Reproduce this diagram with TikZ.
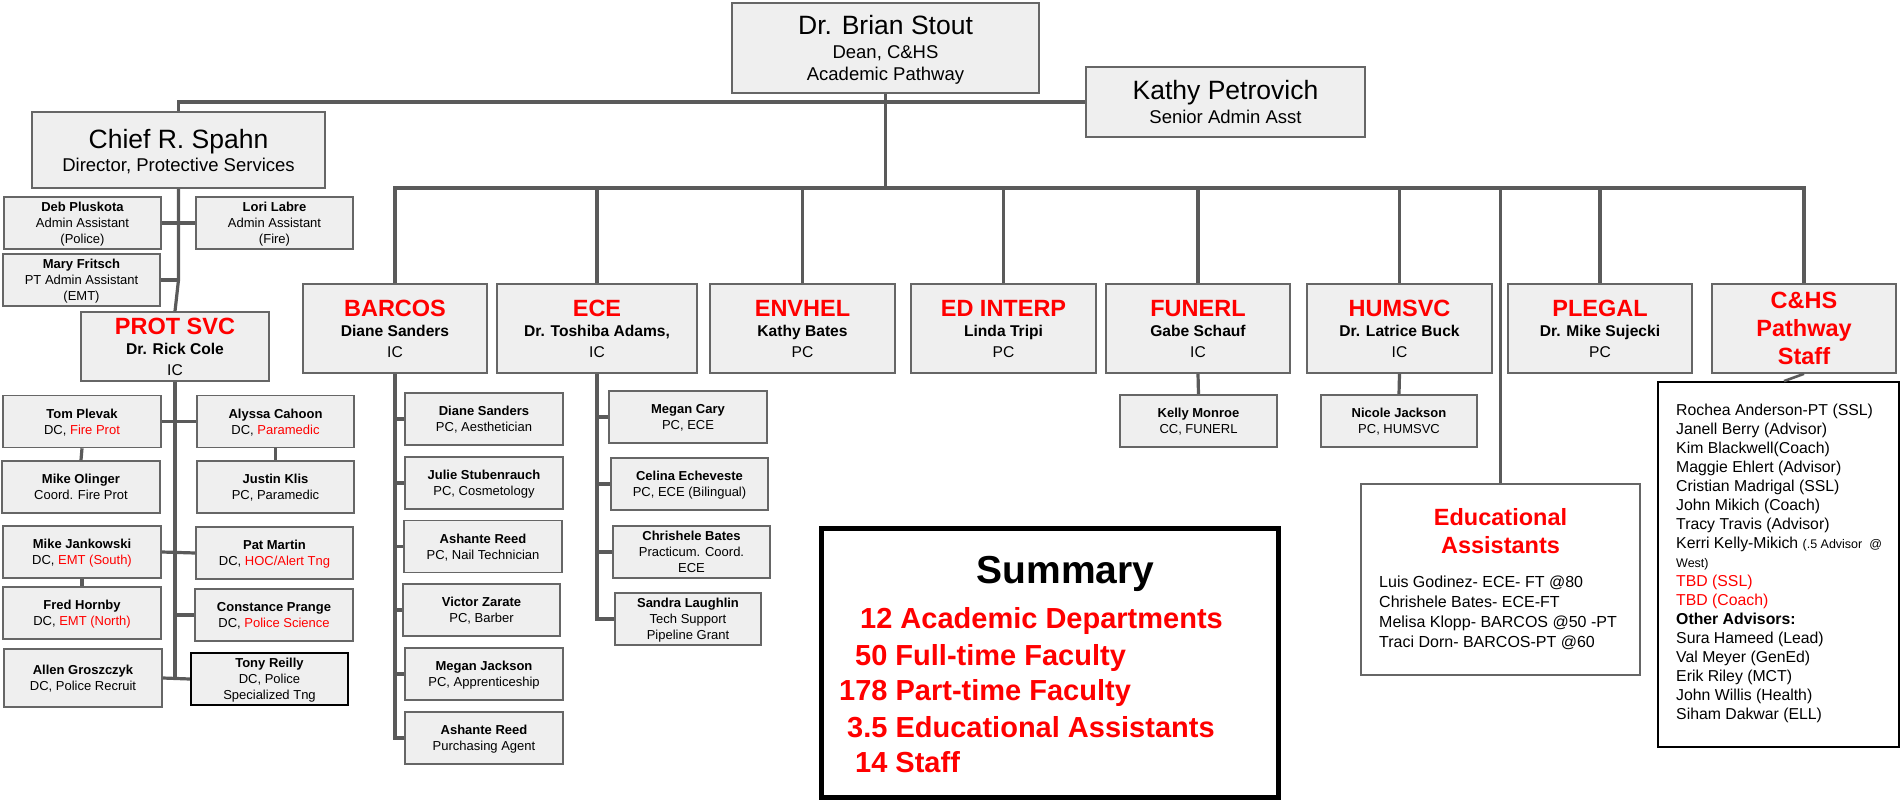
\documentclass[tikz,border=0pt]{standalone}
\usepackage{fontspec}
\setmainfont{Liberation Sans}
\definecolor{boxfill}{HTML}{EFEFEF}
\definecolor{boxline}{HTML}{666666}
\definecolor{linec}{HTML}{5A5A5A}
\definecolor{redt}{HTML}{FF0000}
\newcommand\redtx[1]{\textcolor{redt}{#1}}
\newcommand\dtitle[1]{{\fontsize{23.5}{28}\selectfont\bfseries\color{redt}#1}}
\begin{document}
\begin{tikzpicture}[x=1pt,y=-1pt,
  box/.style={draw=boxline, fill=boxfill, line width=1.6pt, inner sep=0pt, align=center, text depth=0pt},
  dept/.style={box, minimum width=184pt, minimum height=89pt, font=\fontsize{15.6}{20.5}\selectfont},
  sbox/.style={box, minimum width=158pt, minimum height=52pt, font=\fontsize{13}{16}\selectfont},
  conn/.style={draw=linec, line width=3.2pt},
  txt/.style={inner sep=0pt, anchor=base west},
]
\useasboundingbox (0,0) rectangle (1901,800);

% top level
\node[box, minimum width=307pt, minimum height=90pt, font=\fontsize{18.5}{22}\selectfont] (dean) at (885.5,48)
  {{\fontsize{26.5}{30}\selectfont Dr. Brian Stout}\\[2pt]Dean, C\&HS\\Academic Pathway};
\node[box, minimum width=279pt, minimum height=70pt, font=\fontsize{18.5}{24}\selectfont] (kathy) at (1225.5,102)
  {{\fontsize{26.5}{30}\selectfont Kathy Petrovich}\\Senior Admin Asst};
\node[box, minimum width=293pt, minimum height=76pt, font=\fontsize{18.5}{23}\selectfont] (chief) at (178.5,150)
  {{\fontsize{26.5}{30}\selectfont Chief R. Spahn}\\Director, Protective Services};

% protective services
\node[sbox, minimum width=157pt] (deb) at (82.5,223) {\textbf{Deb Pluskota}\\Admin Assistant\\(Police)};
\node[sbox, minimum width=157pt] (lori) at (274.5,223) {\textbf{Lori Labre}\\Admin Assistant\\(Fire)};
\node[sbox, minimum width=157pt] (mary) at (81.5,280) {\textbf{Mary Fritsch}\\PT Admin Assistant\\(EMT)};
\node[dept, minimum width=188pt, minimum height=69pt] (prot) at (175,346.5) {\dtitle{PROT SVC}\\\textbf{Dr. Rick Cole}\\IC};

\node[sbox] (tom) at (82,421.5) {\textbf{Tom Plevak}\\DC, \redtx{Fire Prot}};
\node[sbox, minimum width=157pt] (alyssa) at (275.5,421.5) {\textbf{Alyssa Cahoon}\\DC, \redtx{Paramedic}};
\node[sbox] (olinger) at (81,487) {\textbf{Mike Olinger}\\Coord. Fire Prot};
\node[sbox, minimum width=157pt] (klis) at (275.5,487) {\textbf{Justin Klis}\\PC, Paramedic};
\node[sbox] (jank) at (82,552) {\textbf{Mike Jankowski}\\DC, \redtx{EMT (South)}};
\node[sbox, minimum width=157pt] (pat) at (274.5,553) {\textbf{Pat Martin}\\DC, \redtx{HOC/Alert Tng}};
\node[sbox] (fred) at (82,613) {\textbf{Fred Hornby}\\DC, \redtx{EMT (North)}};
\node[sbox] (constance) at (274,615) {\textbf{Constance Prange}\\DC, \redtx{Police Science}};
\node[sbox, minimum height=58pt] (allen) at (83,678) {\textbf{Allen Groszczyk}\\DC, Police Recruit};
\node[sbox, minimum width=157pt, draw=black, line width=2.2pt] (tony) at (269.5,679) {\textbf{Tony Reilly}\\DC, Police\\Specialized Tng};

% departments
\node[dept] (barcos) at (395,328.5) {\dtitle{BARCOS}\\\textbf{Diane Sanders}\\IC};
\node[dept, minimum width=200pt] (ece) at (597,328.5) {\dtitle{ECE}\\\textbf{Dr. Toshiba Adams,}\\IC};
\node[dept, minimum width=185pt] (envhel) at (802.5,328.5) {\dtitle{ENVHEL}\\\textbf{Kathy Bates}\\PC};
\node[dept, minimum width=185pt] (edinterp) at (1003.5,328.5) {\dtitle{ED INTERP}\\\textbf{Linda Tripi}\\PC};
\node[dept] (funerl) at (1198,328.5) {\dtitle{FUNERL}\\\textbf{Gabe Schauf}\\IC};
\node[dept, minimum width=185pt] (humsvc) at (1399.5,328.5) {\dtitle{HUMSVC}\\\textbf{Dr. Latrice Buck}\\IC};
\node[dept] (plegal) at (1600,328.5) {\dtitle{PLEGAL}\\\textbf{Dr. Mike Sujecki}\\PC};
\node[dept, text=redt, font=\fontsize{23.5}{28}\selectfont\bfseries] (chs) at (1804,328.5) {C\&HS\\Pathway\\Staff};

% BARCOS staff
\node[sbox] (ds2) at (484,419) {\textbf{Diane Sanders}\\PC, Aesthetician};
\node[sbox] (julie) at (484,483) {\textbf{Julie Stubenrauch}\\PC, Cosmetology};
\node[sbox] (ashante1) at (483,546.5) {\textbf{Ashante Reed}\\PC, Nail Technician};
\node[sbox, minimum width=157pt] (victor) at (481.5,610) {\textbf{Victor Zarate}\\PC, Barber};
\node[sbox] (meganj) at (484,674) {\textbf{Megan Jackson}\\PC, Apprenticeship};
\node[sbox] (ashante2) at (484,738) {\textbf{Ashante Reed}\\Purchasing Agent};

% ECE staff
\node[sbox] (meganc) at (688,417) {\textbf{Megan Cary}\\PC, ECE};
\node[sbox, minimum width=157pt] (celina) at (689.5,484) {\textbf{Celina Echeveste}\\PC, ECE (Bilingual)};
\node[sbox, minimum width=157pt] (chrishele) at (691.5,552) {\textbf{Chrishele Bates}\\Practicum. Coord.\\ECE};
\node[sbox, minimum width=146pt] (sandra) at (688,619) {\textbf{Sandra Laughlin}\\Tech Support\\Pipeline Grant};

\node[sbox, minimum width=157pt] (kelly) at (1198.5,421) {\textbf{Kelly Monroe}\\CC, FUNERL};
\node[sbox, minimum width=156pt] (nicole) at (1399,421) {\textbf{Nicole Jackson}\\PC, HUMSVC};

% Educational Assistants
\node[box, fill=white, minimum width=279pt, minimum height=191pt] (ea) at (1500.5,579.5) {};
\node[anchor=base, inner sep=0pt, font=\fontsize{23.5}{28}\selectfont\bfseries, text=redt] (eat1) at (1500.5,525) {Educational};
\node[anchor=base, inner sep=0pt, font=\fontsize{23.5}{28}\selectfont\bfseries, text=redt] (eat2) at (1500.5,553) {Assistants};
\foreach \mytext [count=\i from 0] in {Luis Godinez- ECE- FT @80, Chrishele Bates- ECE-FT, Melisa Klopp- BARCOS @50 -PT, Traci Dorn- BARCOS-PT @60}
  \node[txt, font=\fontsize{16}{19}\selectfont] (eal\i) at (1379,{587+20*\i}) {\mytext};

% Pathway staff
\node[draw=black, line width=1.8pt, fill=white, minimum width=241pt, minimum height=365pt, inner sep=0pt] (staff) at (1778.5,564.5) {};
\foreach \mytext [count=\i from 0] in {Rochea Anderson-PT (SSL), Janell Berry (Advisor), Kim Blackwell(Coach), Maggie Ehlert (Advisor), Cristian Madrigal (SSL), John Mikich (Coach), Tracy Travis (Advisor), Kerri Kelly-Mikich {\fontsize{12.5}{15}\selectfont(.5 Advisor\ \ @}, {\fontsize{12.5}{15}\selectfont West)}, \redtx{TBD (SSL)}, \redtx{TBD (Coach)}, \textbf{Other Advisors:}, Sura Hameed (Lead), Val Meyer (GenEd), Erik Riley (MCT), John Willis (Health), Siham Dakwar (ELL)}
  \node[txt, font=\fontsize{15.8}{19}\selectfont] (stl\i) at (1676,{415+19*\i}) {\mytext};

% Summary
\node[draw=black, line width=5pt, minimum width=457pt, minimum height=269pt, inner sep=0pt] (summary) at (1049.5,662.5) {};
\node[anchor=base, inner sep=0pt, font=\fontsize{39}{44}\selectfont\bfseries] (sumt) at (1065.5,583) {Summary};
\node[txt, font=\fontsize{29}{34}\selectfont\bfseries, text=redt] (sum1) at (860,628) {12 Academic Departments};
\node[txt, font=\fontsize{29}{34}\selectfont\bfseries, text=redt] (sum2) at (855,665) {50 Full-time Faculty};
\node[txt, font=\fontsize{29}{34}\selectfont\bfseries, text=redt] (sum3) at (839,700) {178 Part-time Faculty};
\node[txt, font=\fontsize{29}{34}\selectfont\bfseries, text=redt] (sum4) at (847,737) {3.5 Educational Assistants};
\node[txt, font=\fontsize{29}{34}\selectfont\bfseries, text=redt] (sum5) at (855,772) {14 Staff};

% connectors
\coordinate (bus) at (0,188);
\draw[conn] (chief.north) |- (kathy.west);
\draw[conn] (dean.south) -- (dean.south |- bus);
\draw[conn] (barcos.north) -- (barcos.north |- bus) -- (chs.north |- bus) -- (chs.north);
\foreach \n in {ece,envhel,edinterp,funerl,humsvc,plegal,ea}
  \draw[conn] (\n.north) -- (\n.north |- bus);

\draw[conn] (chief.south) -- (chief.south |- mary.east) -- (prot.north);
\draw[conn] (deb.east) -- (lori.west);
\draw[conn] (mary.east) -- (mary.east -| chief.south);

\draw[conn] (prot.south) -- (prot.south |- allen.east);
\draw[conn] (tom.east) -- (alyssa.west);
\draw[conn] (tom.south) -- (olinger.north);
\draw[conn] (alyssa.south) -- (klis.north);
\draw[conn] (jank.east) -- (pat.west);
\draw[conn] (jank.south) -- (fred.north);
\draw[conn] (constance.west) -- (constance.west -| prot.south);
\draw[conn] (allen.east) -- (tony.west);

\draw[conn] (barcos.south) |- (ashante2.west);
\foreach \n in {ds2,julie,ashante1,victor,meganj}
  \draw[conn] (\n.west) -- (\n.west -| barcos.south);
\draw[conn] (ece.south) |- (sandra.west);
\foreach \n in {meganc,celina,chrishele}
  \draw[conn] (\n.west) -- (\n.west -| ece.south);
\draw[conn] (funerl.south) -- (kelly.north);
\draw[conn] (humsvc.south) -- (nicole.north);
\draw[conn, line width=2.6pt] (chs.south) -- ([xshift=-20pt]chs.south |- staff.north);
\end{tikzpicture}
\end{document}
